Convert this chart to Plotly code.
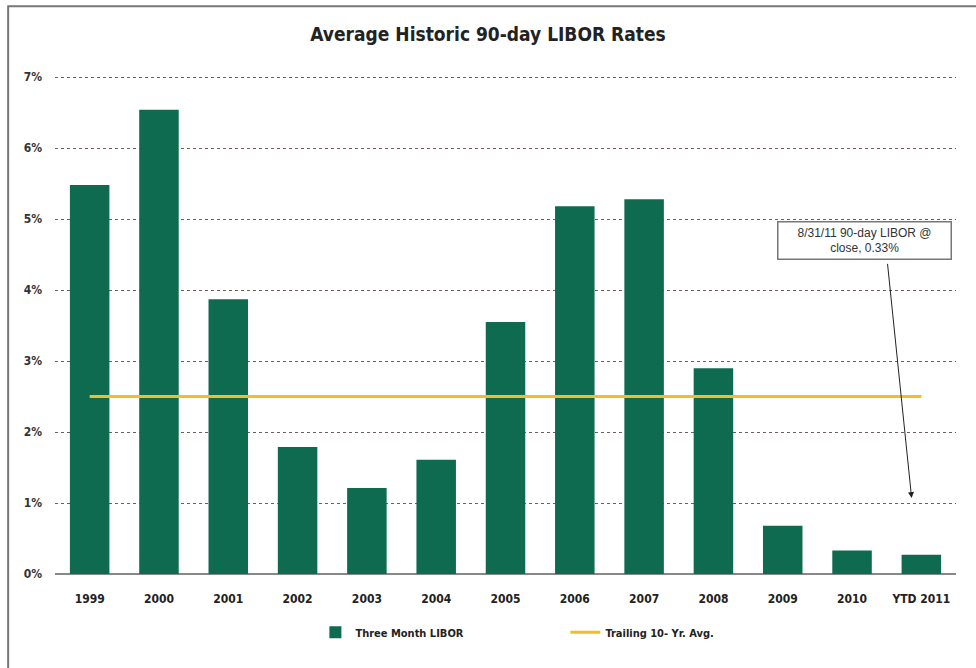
import plotly.graph_objects as go

categories = ["1999", "2000", "2001", "2002", "2003", "2004", "2005",
              "2006", "2007", "2008", "2009", "2010", "YTD 2011"]
libor = [5.48, 6.54, 3.87, 1.79, 1.21, 1.61, 3.55, 5.18, 5.28, 2.90, 0.68, 0.33, 0.27]
trailing_avg = [2.50] * len(categories)
y_ticks = [0, 1, 2, 3, 4, 5, 6, 7]
y_tick_labels = [f"{v}%" for v in y_ticks]

COND = "Liberation Sans Narrow, DejaVu Sans Condensed, Arial Narrow, sans-serif"
GREEN = "#0F6B4F"
GOLD = "#F0BE2A"

fig = go.Figure()
fig.add_trace(go.Bar(x=categories, y=libor, name="Three Month LIBOR",
                     marker=dict(color=GREEN, line=dict(width=0))))
fig.add_trace(go.Scatter(x=categories, y=trailing_avg, name="Trailing 10- Yr. Avg.",
                         mode="lines", line=dict(color=GOLD, width=3)))

fig.update_layout(
    width=976, height=668,
    margin=dict(l=55, r=20, t=76, b=94),
    paper_bgcolor="white", plot_bgcolor="white",
    bargap=0.43,
    title=dict(text="<b>Average Historic 90-day LIBOR Rates</b>", x=0.5, xanchor="center",
               y=0.948, yanchor="middle",
               font=dict(family=COND, size=19, color="#222")),
    font=dict(family=COND, color="#222"),
    showlegend=True,
    legend=dict(orientation="h", x=0.289, xanchor="left", y=-0.117, yanchor="middle",
                font=dict(family=COND, size=11, color="#222"),
                entrywidth=205, entrywidthmode="pixels",
                bgcolor="rgba(0,0,0,0)"),
    xaxis=dict(type="category", showgrid=False, showline=False, ticks="",
               tickfont=dict(family=COND, size=12, color="#222"),
               ticklabelstandoff=16, range=[-0.5, 12.5]),
    yaxis=dict(range=[0, 7.015], tickvals=y_ticks, ticktext=[f"<b>{t}</b>" for t in y_tick_labels],
               showgrid=True, gridcolor="#6e5e5e", gridwidth=1, griddash="dot",
               zeroline=True, zerolinecolor="#888", zerolinewidth=2,
               tickfont=dict(family=COND, size=12, color="#333"),
               ticks="", ticklabelstandoff=12),
)
fig.update_xaxes(ticktext=[f"<b>{c}</b>" for c in categories], tickvals=categories)
fig.for_each_trace(lambda t: t.update(name=f"<b>{t.name}</b>"))

# callout box
fig.add_annotation(x=11.18, y=4.70, xref="x", yref="y",
                   text="8/31/11 90-day LIBOR @<br>close, 0.33%",
                   showarrow=False, font=dict(family="Liberation Sans, Arial, sans-serif", size=12, color="#333"),
                   bordercolor="#777", borderwidth=1.5, borderpad=3, bgcolor="white",
                   width=166)
# arrow
fig.add_annotation(x=11.86, y=1.07, xref="x", yref="y",
                   ax=11.51, ay=4.39, axref="x", ayref="y",
                   text="", showarrow=True, arrowhead=2, arrowsize=1.2,
                   arrowwidth=1, arrowcolor="#222")

# outer frame (right and bottom edges fall outside the view, as in the reference)
fig.add_shape(type="rect", xref="paper", yref="paper",
              x0=-0.052, x1=1.2, y0=-0.3, y1=1.14,
              line=dict(color="#777", width=2), fillcolor="rgba(0,0,0,0)", layer="below")

fig.write_html("out.html")
